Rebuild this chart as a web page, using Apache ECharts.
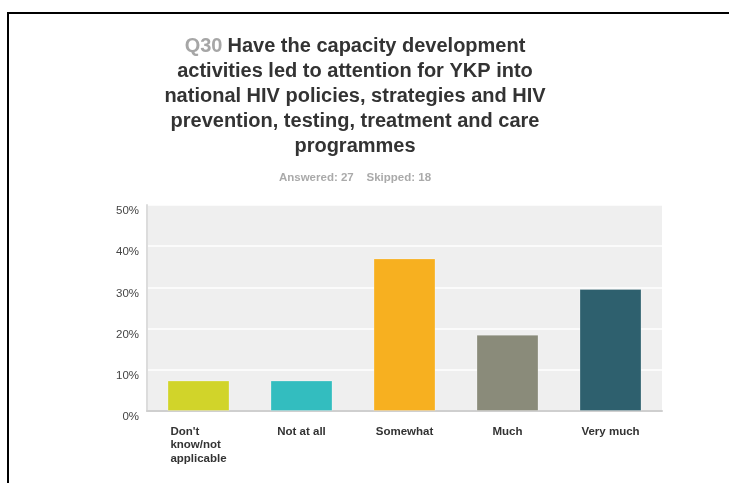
<!DOCTYPE html>
<html>
<head>
<meta charset="utf-8">
<script src="https://cdn.jsdelivr.net/npm/echarts@6/dist/echarts.min.js"></script>
<style>
  html, body { margin: 0; padding: 0; background: #fff; }
  #wrap { position: relative; width: 729px; height: 483px; overflow: hidden; }
  #chart { position: absolute; left: 0; top: 0; width: 729px; height: 483px; }
  #frame { position: absolute; left: 7px; top: 12px; width: 740px; height: 500px;
           border-top: 2px solid #000; border-left: 2px solid #000; pointer-events: none; }
</style>
</head>
<body>
<div id="wrap">
  <div id="chart"></div>
  <div id="frame"></div>
</div>
<script>
const questionId = 'Q30';
const titleLines = [
  'Have the capacity development',
  'activities led to attention for YKP into',
  'national HIV policies, strategies and HIV',
  'prevention, testing, treatment and care',
  'programmes'
];
const subtitleText = 'Answered: 27    Skipped: 18';
const categories = ["Don't\nknow/not\napplicable", 'Not at all', 'Somewhat', 'Much', 'Very much'];
const values = [7.41, 7.41, 37.04, 18.52, 29.63];
const barColors = ['#D1D42A', '#33BDBF', '#F7B020', '#8A8B7A', '#2E606E'];
const yTicks = { min: 0, max: 50, interval: 10 };

const titleText = '{q|' + questionId + '} {t|' + titleLines[0] + '}\n' +
  titleLines.slice(1).map(l => '{t|' + l + '}').join('\n');

const chart = echarts.init(document.getElementById('chart'), null, { renderer: 'canvas' });
chart.setOption({
  backgroundColor: '#ffffff',
  animation: false,
  title: [
    {
      text: titleText,
      left: 355, top: 34, textAlign: 'center', padding: 0,
      textStyle: {
        rich: {
          q: { fontFamily: 'Liberation Sans, Arial', fontSize: 20, fontWeight: 'bold', color: '#A6A6A6', lineHeight: 25 },
          t: { fontFamily: 'Liberation Sans, Arial', fontSize: 20, fontWeight: 'bold', color: '#333333', lineHeight: 25 }
        }
      }
    },
    {
      text: subtitleText,
      left: 355, top: 172, textAlign: 'center', padding: 0,
      textStyle: { fontFamily: 'Liberation Sans, Arial', fontSize: 11.5, fontWeight: 'bold', color: '#AAAAAA' }
    }
  ],
  grid: {
    left: 147, right: 67, top: 205, bottom: 72,
    show: true, backgroundColor: '#EFEFEF', borderWidth: 0
  },
  xAxis: {
    type: 'category',
    data: categories,
    axisLine: { show: true, lineStyle: { color: '#CFCFCF', width: 2 } },
    axisTick: { show: false },
    axisLabel: {
      interval: 0, margin: 14,
      formatter: v => '{c|' + v + '}',
      rich: {
        c: { fontFamily: 'Liberation Sans, Arial', fontSize: 11.5, fontWeight: 'bold', color: '#333333', lineHeight: 13.5, align: 'left' }
      }
    }
  },
  yAxis: {
    type: 'value',
    min: yTicks.min, max: yTicks.max, interval: yTicks.interval,
    axisLine: { show: true, lineStyle: { color: '#DCDCDC', width: 2 } },
    axisTick: { show: false },
    axisLabel: {
      formatter: '{value}%', margin: 8, verticalAlign: 'top',
      fontFamily: 'Liberation Sans, Arial', fontSize: 11.5, color: '#444444'
    },
    splitLine: { show: true, lineStyle: { color: '#FFFFFF', width: 1.5 } }
  },
  series: [{
    type: 'bar',
    data: values.map((v, i) => ({ value: v, itemStyle: { color: barColors[i] } })),
    barWidth: 62,
    itemStyle: { borderColor: 'rgba(255,255,255,0.25)', borderWidth: 1 }
  }]
});
</script>
</body>
</html>
